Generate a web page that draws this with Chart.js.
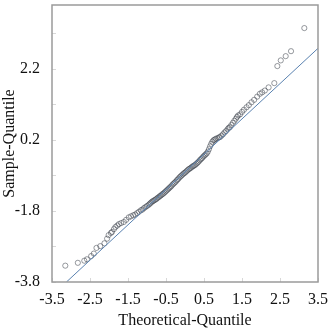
<!DOCTYPE html>
<html>
<head>
<meta charset="utf-8">
<script src="https://cdn.jsdelivr.net/npm/chart.js@4"></script>
<style>
  body { margin: 0; background: #fff; }
  #wrap { width: 330px; height: 330px; }
</style>
</head>
<body>
<div id="wrap"><canvas id="qq" width="330" height="330"></canvas></div>
<script>
// theoretical quantiles (x) and sample quantiles (y)
const theoretical = [
  -3.15, -2.82, -2.65, -2.58, -2.47, -2.40, -2.33, -2.23, -2.12, -2.05,
  -2.01, -1.95, -1.92, -1.87, -1.83, -1.78, -1.74, -1.68, -1.61, -1.55,
  -1.48, -1.42, -1.36, -1.31, -1.26, -1.21, -1.16, -1.12, -1.08, -1.04,
  -1.00, -0.96, -0.93, -0.90, -0.87, -0.84, -0.81, -0.78, -0.75, -0.72,
  -0.69, -0.66, -0.63, -0.60, -0.57, -0.54, -0.51, -0.48, -0.45, -0.42,
  -0.39, -0.36, -0.33, -0.30, -0.27, -0.24, -0.21, -0.18, -0.15, -0.12,
  -0.09, -0.06, -0.03, 0.00, 0.03, 0.06, 0.09, 0.12, 0.15, 0.18,
  0.21, 0.24, 0.27, 0.30, 0.33, 0.36, 0.39, 0.42, 0.45, 0.48,
  0.51, 0.54, 0.57, 0.60, 0.63, 0.66, 0.69, 0.72, 0.75, 0.78,
  0.81, 0.85, 0.89, 0.92, 0.96, 1.00, 1.04, 1.08, 1.12, 1.15,
  1.18, 1.22, 1.26, 1.30, 1.34, 1.37, 1.40, 1.45, 1.50, 1.55,
  1.62, 1.68, 1.75, 1.82, 1.90, 1.97, 2.03, 2.10, 2.20, 2.35,
  2.43, 2.52, 2.65, 2.79, 3.14
];
const sample = [
  -3.34, -3.26, -3.20, -3.16, -3.07, -3.00, -2.84, -2.79, -2.71, -2.58,
  -2.48, -2.42, -2.39, -2.31, -2.25, -2.21, -2.17, -2.14, -2.11, -2.05,
  -1.98, -1.95, -1.92, -1.90, -1.86, -1.82, -1.78, -1.76, -1.72, -1.69,
  -1.66, -1.63, -1.60, -1.57, -1.54, -1.52, -1.50, -1.48, -1.46, -1.43,
  -1.41, -1.38, -1.36, -1.33, -1.31, -1.28, -1.25, -1.22, -1.19, -1.16,
  -1.13, -1.10, -1.06, -1.03, -1.00, -0.97, -0.93, -0.90, -0.86, -0.83,
  -0.80, -0.77, -0.74, -0.72, -0.69, -0.66, -0.63, -0.61, -0.59, -0.56,
  -0.54, -0.52, -0.50, -0.47, -0.44, -0.41, -0.37, -0.34, -0.31, -0.27,
  -0.24, -0.21, -0.18, -0.13, -0.06, 0.02, 0.09, 0.15, 0.19, 0.21,
  0.23, 0.25, 0.27, 0.28, 0.32, 0.36, 0.41, 0.45, 0.50, 0.54,
  0.56, 0.62, 0.68, 0.74, 0.80, 0.85, 0.89, 0.92, 0.99, 1.05,
  1.12, 1.18, 1.26, 1.33, 1.42, 1.50, 1.54, 1.59, 1.68, 1.80,
  2.28, 2.44, 2.56, 2.70, 3.35
];
// reference line end points
const lineX = [-3.12, 3.5];
const lineY = [-3.8, 2.78];

const xTicks = [-3.5, -2.5, -1.5, -0.5, 0.5, 1.5, 2.5, 3.5];
const yTicks = [-3.8, -1.8, 0.2, 2.2];
const yMinor = [-2.8, -0.8, 1.2, 3.2];

const serif = "'Liberation Serif', 'Times New Roman', serif";

const points = theoretical.map((x, i) => ({ x: x, y: sample[i] }));
const refLine = lineX.map((x, i) => ({ x: x, y: lineY[i] }));

// box round the plot and small inner tick marks
const frame = {
  id: 'frame',
  afterDraw(chart) {
    const ctx = chart.ctx;
    const a = chart.chartArea;
    const xs = chart.scales.x, ys = chart.scales.y;
    ctx.save();
    ctx.strokeStyle = '#d8d8d8';
    ctx.lineWidth = 1;
    ctx.beginPath();
    xTicks.forEach(v => {
      const px = Math.round(xs.getPixelForValue(v)) + 0.5;
      ctx.moveTo(px, a.bottom); ctx.lineTo(px, a.bottom - 4);
    });
    yTicks.concat(yMinor).forEach(v => {
      const py = Math.round(ys.getPixelForValue(v)) + 0.5;
      ctx.moveTo(a.left, py); ctx.lineTo(a.left + 4, py);
    });
    ctx.stroke();
    ctx.strokeStyle = '#9a9a9a';
    ctx.lineWidth = 1.5;
    ctx.strokeRect(a.left, a.top, a.right - a.left, a.bottom - a.top);
    ctx.restore();
  }
};

// fixed axis sizes, no label overhang padding
const fitX = s => {
  s.paddingTop = 0; s.paddingBottom = 0;
  s.paddingLeft = 0; s.paddingRight = 0;
  s.height = 48;
};
const fitY = s => {
  s.paddingTop = 0; s.paddingBottom = 0;
  s.paddingLeft = 0; s.paddingRight = 0;
  s.width = 52;
};

new Chart(document.getElementById('qq'), {
  type: 'scatter',
  data: {
    datasets: [
      {
        type: 'line',
        label: 'reference',
        data: refLine,
        borderColor: '#5a82b0',
        borderWidth: 1,
        pointRadius: 0,
        fill: false,
      },
      {
        label: 'sample',
        data: points,
        pointStyle: 'circle',
        pointRadius: 2.6,
        backgroundColor: 'rgba(0,0,0,0)',
        borderColor: 'rgba(50,56,66,0.5)',
        borderWidth: 1,
      }
    ]
  },
  options: {
    responsive: false,
    animation: false,
    layout: { padding: { left: 0, right: 12, top: 4, bottom: 0 } },
    plugins: {
      legend: { display: false },
      tooltip: { enabled: false },
    },
    scales: {
      x: {
        type: 'linear',
        min: -3.5,
        max: 3.5,
        afterBuildTicks: s => { s.ticks = xTicks.map(v => ({ value: v })); },
        afterFit: fitX,
        grid: { display: false, drawTicks: false },
        border: { display: false },
        ticks: {
          color: '#111',
          font: { family: serif, size: 16 },
          maxRotation: 0,
          autoSkip: false,
          padding: 8,
          callback: v => v.toFixed(1),
        },
        title: {
          display: true,
          text: 'Theoretical-Quantile',
          color: '#111',
          font: { family: serif, size: 16 },
          padding: { top: 0, bottom: 0 },
        }
      },
      y: {
        type: 'linear',
        min: -3.8,
        max: 4.0,
        afterBuildTicks: s => { s.ticks = yTicks.map(v => ({ value: v })); },
        afterFit: fitY,
        grid: { display: false, drawTicks: false },
        border: { display: false },
        ticks: {
          color: '#111',
          font: { family: serif, size: 16 },
          autoSkip: false,
          padding: 12,
          callback: v => v.toFixed(1),
        },
        title: {
          display: true,
          text: 'Sample-Quantile',
          color: '#111',
          font: { family: serif, size: 16 },
          padding: { top: 0, bottom: 0 },
        }
      }
    }
  },
  plugins: [frame]
});
</script>
</body>
</html>
